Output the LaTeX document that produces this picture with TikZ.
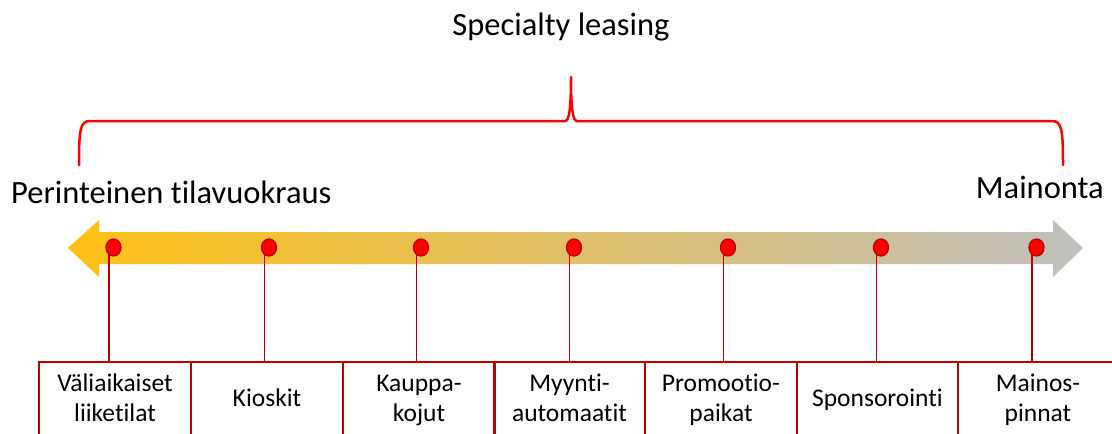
\documentclass[tikz,border=0pt]{standalone}
\usepackage{fontspec}
\setmainfont{Carlito}[RawFeature={-liga;-clig;-dlig}]
\usetikzlibrary{shapes.geometric}

\definecolor{gold}{RGB}{254,192,20}
\definecolor{tan}{RGB}{228,190,128}
\definecolor{silver}{RGB}{191,191,191}
\definecolor{darkred}{RGB}{192,0,0}
\definecolor{brightred}{RGB}{255,0,0}

\tikzset{
  headline/.style={inner sep=0pt, font=\fontsize{32.5}{39}\selectfont},
  boxframe/.style={draw=darkred, line width=2pt, rectangle, inner sep=0pt,
                   minimum height=90pt, anchor=north west},
  boxlabel/.style={inner sep=0pt, align=center, font=\fontsize{25.5}{30}\selectfont},
  dot/.style={ellipse, fill=brightred, draw=darkred, line width=1.3pt,
              minimum width=15pt, minimum height=17pt, inner sep=0pt},
  conn/.style={draw=darkred, line width=1.4pt},
  brace/.style={draw=brightred, line width=2.5pt, line cap=round, line join=round}
}

\begin{document}
\begin{tikzpicture}[x=1pt, y=-1pt]
\useasboundingbox (0,0) rectangle (1112,434);

% title and the two ends of the scale
\node[headline, anchor=base] (title) at (561,35) {Specialty leasing};
\node[headline, anchor=base west] (left) at (11,203) {Perinteinen tilavuokraus};
\node[headline, anchor=base east] (right) at (1104,198) {Mainonta};

% curly brace spanning the scale
\draw[brace] (79,165) .. controls (79,130) and (80,121) .. (90,121)
  -- (565,121) .. controls (569,121) and (571,110) .. (571,77)
  .. controls (571,110) and (573,121) .. (577,121)
  -- (1052,121) .. controls (1062,121) and (1063,130) .. (1063,165);

% double-headed shaded arrow
\shade[left color=gold, middle color=tan, right color=silver]
  (68,248) -- (99,220) -- (99,232) -- (1053,232) -- (1053,220) -- (1083,248)
  -- (1053,277) -- (1053,264) -- (99,264) -- (99,277) -- cycle;

% category boxes
\node[boxframe, minimum width=152pt] (b1) at (38,361) {};
\node[boxframe, minimum width=152pt] (b2) at (190,361) {};
\node[boxframe, minimum width=152pt] (b3) at (342,361) {};
\node[boxframe, minimum width=151pt] (b4) at (493,361) {};
\node[boxframe, minimum width=152pt] (b5) at (644,361) {};
\node[boxframe, minimum width=161pt] (b6) at (796,361) {};
\node[boxframe, minimum width=160pt] (b7) at (957,361) {};

\node[boxlabel] (t1) at (b1.north |- 0,400) {\strut Väliaikaiset\\\strut liiketilat};
\node[boxlabel] (t2) at (b2.north |- 0,400) {\strut Kioskit};
\node[boxlabel] (t3) at (b3.north |- 0,400) {\strut Kauppa-\\\strut kojut};
\node[boxlabel] (t4) at (b4.north |- 0,400) {\strut Myynti-\\\strut automaatit};
\node[boxlabel] (t5) at (b5.north |- 0,400) {\strut Promootio-\\\strut paikat};
\node[boxlabel] (t6) at (b6.north |- 0,400) {\strut Sponsorointi};
\node[boxlabel] (t7) at (b7.north |- 0,400) {\strut Mainos-\\\strut pinnat};

% markers on the scale
\coordinate (p1) at (113.5,247.5);
\coordinate (p2) at (269,247.5);
\coordinate (p3) at (421,247.5);
\coordinate (p4) at (574,247.5);
\coordinate (p5) at (728,247.5);
\coordinate (p6) at (881,247.5);
\coordinate (p7) at (1036.5,247.5);

\foreach \i in {1,...,7}{
  \draw[conn] ([xshift=-4.5pt]p\i) -- ([xshift=-4.5pt]p\i |- b\i.north);
}
\foreach \i in {1,...,7}{
  \node[dot] (d\i) at (p\i) {};
}
\end{tikzpicture}
\end{document}
